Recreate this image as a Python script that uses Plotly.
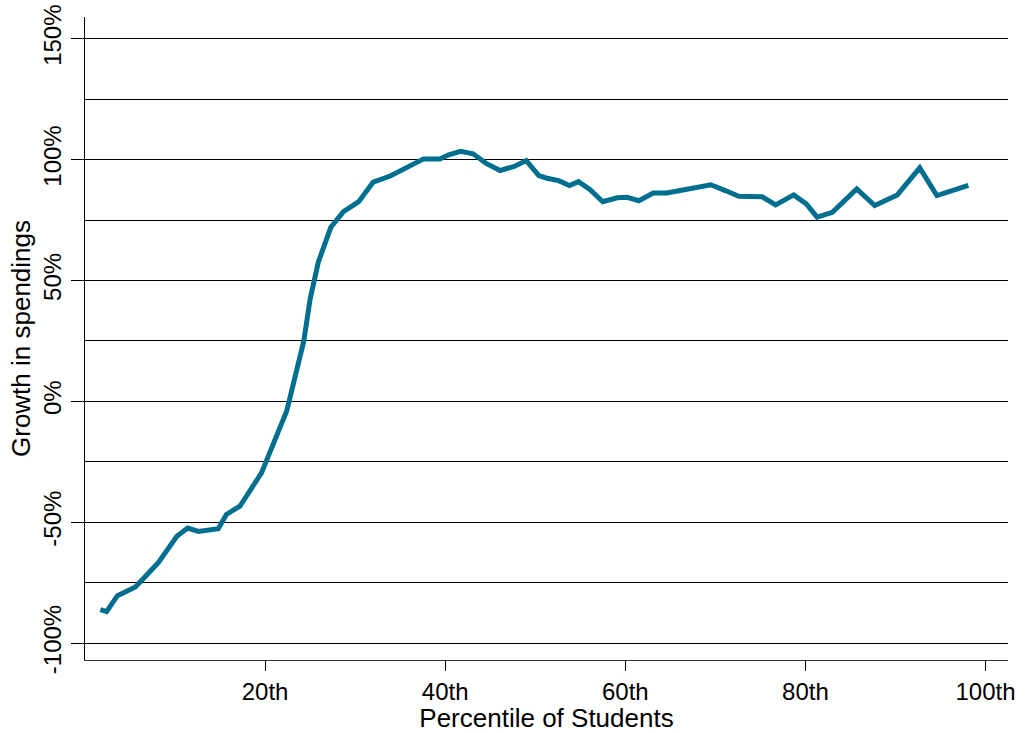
import plotly.graph_objects as go

# percentile of students
pct = [1.7, 2.4, 3.6, 5.6, 8.1, 10.2, 11.4, 12.6, 14.8, 15.7, 17.2, 19.6, 22.4,
       23.3, 24.3, 25.0, 25.9, 27.3, 28.7, 30.4, 32.0, 33.9, 35.7, 37.6, 39.4,
       40.4, 41.7, 43.1, 44.6, 46.1, 47.6, 49.0, 50.4, 51.3, 52.6, 53.8, 54.8,
       56.1, 57.5, 59.1, 60.2, 61.5, 63.1, 64.6, 66.1, 67.8, 69.5, 71.1, 72.6,
       75.2, 76.7, 78.7, 80.1, 81.3, 83.0, 85.7, 87.7, 90.2, 92.7, 94.6, 98.1]

# growth in spendings (%)
growth = [-86.2, -87.0, -80.4, -76.8, -66.9, -55.8, -52.4, -53.8, -52.7, -46.8,
          -43.4, -29.6, -4.0, 9.0, 25.0, 42.3, 57.5, 72.0, 78.5, 82.6, 90.7, 93.2,
          96.5, 100.3, 100.3, 102.0, 103.4, 102.4, 98.3, 95.5, 97.1, 99.6, 93.4,
          92.3, 91.3, 89.3, 90.9, 87.6, 82.6, 84.2, 84.4, 83.0, 86.2, 86.2, 87.2,
          88.4, 89.6, 87.2, 84.8, 84.6, 81.3, 85.4, 81.7, 76.2, 78.2, 87.9, 81.0,
          85.4, 96.6, 85.1, 89.3]

x_ticks = [20, 40, 60, 80, 100]
x_labels = ["20th", "40th", "60th", "80th", "100th"]
y_ticks = [-100, -50, 0, 50, 100, 150]
y_labels = ["-100%", "-50%", "0%", "50%", "100%", "150%"]

fig = go.Figure()

fig.add_trace(go.Scatter(
    x=pct, y=growth,
    mode="lines",
    line=dict(color="#006F8F", width=5),
    hoverinfo="skip",
    showlegend=False,
))

font = "Liberation Sans, Arial, sans-serif"

fig.update_layout(
    width=1033, height=733,
    margin=dict(l=85, r=25, t=17, b=73),
    paper_bgcolor="white",
    plot_bgcolor="white",
    font=dict(family=font, size=24, color="black"),
    xaxis=dict(
        range=[0, 102.5],
        tickvals=x_ticks, ticktext=x_labels,
        ticks="outside", ticklen=10, tickcolor="black", tickwidth=1,
        showline=True, linecolor="#333", linewidth=1,
        showgrid=False, zeroline=False,
        automargin=False,
        ticklabeloverflow="allow",
        title=dict(text="Percentile of Students", font=dict(size=26), standoff=0),
        tickfont=dict(size=24),
    ),
    yaxis=dict(
        range=[-107, 159],
        tickvals=y_ticks, ticktext=y_labels,
        tickangle=-90,
        ticks="outside", ticklen=13, tickcolor="black", tickwidth=1,
        showline=True, linecolor="black", linewidth=1,
        showgrid=True, gridcolor="black", gridwidth=1,
        minor=dict(dtick=25, tick0=0, showgrid=True, gridcolor="black",
                   gridwidth=1, ticks=""),
        zeroline=False,
        automargin=False,
        ticklabeloverflow="allow",
        title=dict(text="Growth in spendings", font=dict(size=26), standoff=1),
        tickfont=dict(size=24),
    ),
)

# drop the default 8px body margin so the figure fills the window
fig.write_html("out.html", config={"displayModeBar": False},
               post_script="document.body.style.margin='0';")
